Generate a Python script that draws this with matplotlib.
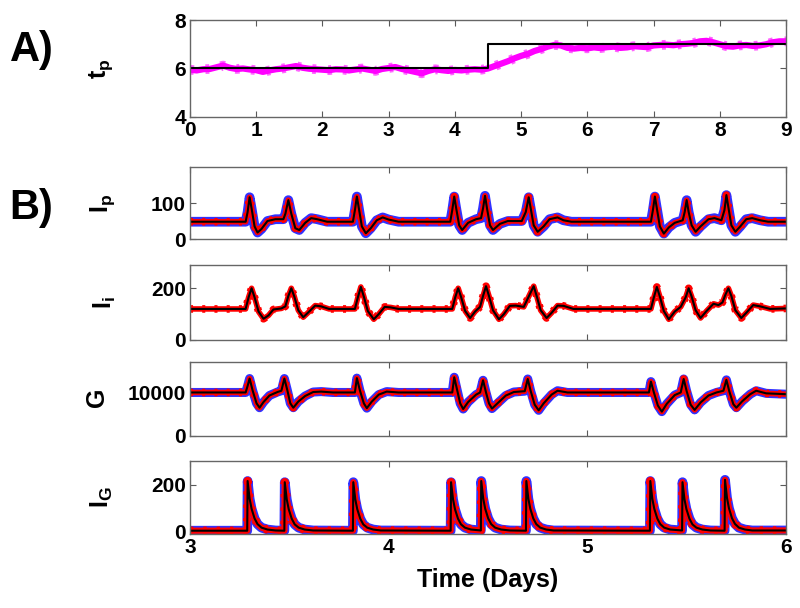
import numpy as np
import matplotlib.pyplot as plt

plt.rcParams['font.family'] = ['Liberation Sans', 'DejaVu Sans']
plt.rcParams['font.weight'] = 'bold'
plt.rcParams['axes.labelweight'] = 'bold'
plt.rcParams['mathtext.fontset'] = 'custom'
plt.rcParams['mathtext.bf'] = 'Liberation Sans:bold'
plt.rcParams['mathtext.rm'] = 'Liberation Sans:bold'
plt.rcParams['mathtext.it'] = 'Liberation Sans:bold'
plt.rcParams['mathtext.default'] = 'bf'

# ---- panel A: estimated vs true t_p over 9 days ----
TP_DAYS = np.linspace(0, 9, 91)
TP_EST = [5.95, 5.92, 5.97, 5.98, 6.05, 6.12, 6.03, 5.98, 6.00, 5.96,
          5.93, 5.86, 5.92, 5.97, 6.00, 6.05, 6.10, 6.03, 5.99, 5.97,
          5.95, 5.93, 5.97, 5.96, 5.92, 5.96, 6.00, 5.95, 5.90, 5.98,
          6.02, 6.06, 5.98, 5.92, 5.86, 5.80, 5.90, 5.97, 5.93, 5.90,
          5.94, 5.92, 5.95, 5.97, 5.95, 6.00, 6.10, 6.20, 6.30, 6.42,
          6.52, 6.60, 6.72, 6.80, 6.90, 6.97, 6.95, 6.85, 6.82, 6.85,
          6.83, 6.87, 6.84, 6.88, 6.90, 6.85, 6.87, 6.92, 6.90, 6.88,
          6.95, 6.97, 6.98, 6.96, 7.00, 7.02, 7.05, 7.12, 7.14, 7.08,
          7.00, 6.92, 6.90, 6.95, 6.97, 6.93, 6.95, 7.00, 7.08, 7.12, 7.12]
TP_TRUE_DAYS = [0, 4.5, 4.5, 9]
TP_TRUE = [6, 6, 7, 7]

# ---- panel B: states over days 3-6 ----
IP_T = [3.00, 3.28, 3.29, 3.30, 3.31, 3.325, 3.34, 3.36, 3.39, 3.43, 3.47, 3.48, 3.495, 3.51,
        3.53, 3.55, 3.58, 3.61, 3.64, 3.69, 3.82, 3.83, 3.84, 3.85, 3.865, 3.885, 3.91, 3.94,
        3.97, 4.00, 4.05, 4.31, 4.32, 4.33, 4.34, 4.355, 4.37, 4.40, 4.44, 4.465, 4.475, 4.485,
        4.495, 4.51, 4.525, 4.56, 4.60, 4.67, 4.69, 4.705, 4.715, 4.73, 4.75, 4.78, 4.81, 4.85,
        4.88, 4.92, 5.32, 5.33, 5.34, 5.35, 5.365, 5.385, 5.41, 5.44, 5.48, 5.49, 5.50, 5.51,
        5.525, 5.545, 5.57, 5.61, 5.64, 5.675, 5.69, 5.70, 5.71, 5.725, 5.745, 5.77, 5.80, 5.83,
        5.87, 5.91, 6.00]
IP_V = [48, 48, 75, 116, 85, 35, 18, 28, 50, 55, 55, 70, 108, 70,
        30, 25, 45, 58, 55, 48, 48, 80, 118, 85, 35, 16, 30, 52,
        60, 54, 48, 48, 80, 118, 85, 38, 25, 45, 55, 58, 85, 120,
        85, 38, 25, 42, 50, 50, 75, 116, 85, 38, 20, 35, 55, 60,
        52, 48, 48, 80, 118, 85, 35, 15, 32, 45, 52, 75, 108, 75,
        38, 20, 35, 55, 58, 52, 80, 122, 88, 38, 20, 35, 55, 58,
        52, 48, 48]

II_T = [3.00, 3.28, 3.295, 3.31, 3.325, 3.345, 3.37, 3.395, 3.42, 3.46, 3.48, 3.495, 3.51,
        3.525, 3.545, 3.57, 3.60, 3.63, 3.66, 3.70, 3.83, 3.845, 3.86, 3.875, 3.895, 3.925,
        3.95, 3.98, 4.01, 4.05, 4.32, 4.335, 4.35, 4.365, 4.385, 4.41, 4.435, 4.46, 4.475,
        4.49, 4.505, 4.525, 4.555, 4.58, 4.61, 4.64, 4.68, 4.70, 4.73, 4.745, 4.765, 4.795,
        4.82, 4.85, 4.88, 4.93, 5.32, 5.335, 5.35, 5.365, 5.385, 5.41, 5.44, 5.47, 5.495,
        5.51, 5.525, 5.545, 5.57, 5.60, 5.635, 5.66, 5.68, 5.695, 5.71, 5.725, 5.745, 5.775,
        5.80, 5.835, 5.87, 5.92, 6.00]
II_V = [120, 120, 165, 200, 165, 110, 82, 95, 118, 122, 130, 170, 200,
        168, 115, 88, 110, 133, 130, 120, 120, 165, 205, 168, 112, 80,
        100, 128, 126, 120, 120, 165, 200, 165, 112, 85, 110, 128, 170,
        208, 170, 115, 80, 100, 132, 133, 128, 160, 208, 170, 115, 85,
        105, 133, 132, 120, 120, 165, 205, 168, 112, 80, 110, 128, 165,
        200, 168, 115, 85, 112, 140, 135, 145, 175, 200, 170, 115, 85,
        105, 135, 130, 120, 122]

G_T = [3.00, 3.28, 3.29, 3.30, 3.315, 3.335, 3.35, 3.37, 3.40, 3.44, 3.46, 3.475, 3.49, 3.505,
       3.52, 3.545, 3.58, 3.62, 3.66, 3.72, 3.83, 3.84, 3.855, 3.875, 3.89, 3.915, 3.95, 3.99,
       4.05, 4.32, 4.33, 4.345, 4.36, 4.375, 4.40, 4.44, 4.46, 4.475, 4.49, 4.505, 4.52, 4.55,
       4.59, 4.63, 4.685, 4.70, 4.715, 4.735, 4.755, 4.78, 4.82, 4.85, 4.90, 5.31, 5.32, 5.335,
       5.355, 5.375, 5.40, 5.44, 5.47, 5.485, 5.50, 5.52, 5.54, 5.57, 5.61, 5.65, 5.685, 5.70,
       5.715, 5.735, 5.75, 5.78, 5.82, 5.85, 5.90, 6.00]
G_V = [10000, 10000, 11500, 13200, 10500, 7500, 6500, 7800, 9300, 10100, 10400, 13200, 10500, 7500,
       6500, 7900, 9200, 10100, 10200, 10000, 10000, 13300, 10500, 7500, 6400, 7900, 9500, 10200,
       10000, 10000, 13500, 10500, 7500, 6200, 7800, 9500, 10000, 12800, 10000, 7500, 6300, 7600,
       9300, 10100, 10300, 13100, 10300, 7200, 5900, 7500, 9500, 10400, 10000, 10000, 12500, 10000,
       7000, 5600, 7400, 9400, 10000, 13100, 10300, 7200, 6000, 7700, 9300, 10000, 10400, 12900,
       10200, 7300, 6500, 8000, 9600, 10400, 9800, 9600]

IG_T = [3.00, 3.288, 3.29, 3.30, 3.31, 3.325, 3.34, 3.36, 3.39, 3.43,
        3.475, 3.477, 3.487, 3.497, 3.512, 3.527, 3.547, 3.577, 3.62,
        3.82, 3.822, 3.832, 3.842, 3.857, 3.872, 3.892, 3.922, 3.96,
        4.312, 4.314, 4.324, 4.334, 4.349, 4.364, 4.384, 4.414,
        4.464, 4.466, 4.476, 4.486, 4.501, 4.516, 4.536, 4.566, 4.61,
        4.691, 4.693, 4.703, 4.713, 4.728, 4.743, 4.763, 4.793, 4.83,
        5.315, 5.317, 5.327, 5.337, 5.352, 5.367, 5.387, 5.417,
        5.477, 5.479, 5.489, 5.499, 5.514, 5.529, 5.549, 5.579, 5.62,
        5.691, 5.693, 5.703, 5.713, 5.728, 5.743, 5.763, 5.793, 5.83, 6.00]
IG_V = [4, 4, 215, 140, 97, 56, 32, 17, 9, 5,
        4, 210, 137, 95, 55, 31, 17, 9, 5,
        4, 210, 137, 95, 55, 31, 17, 9, 5,
        4, 210, 137, 95, 55, 31, 17, 9,
        5, 215, 140, 97, 56, 32, 17, 9, 5,
        4, 215, 140, 97, 56, 32, 17, 9, 5,
        4, 215, 140, 97, 56, 32, 17, 9,
        5, 210, 137, 95, 55, 31, 17, 9, 5,
        4, 220, 143, 99, 57, 33, 17, 9, 5, 5]

PANELS = [
    (IP_T, IP_V, r'$I_p$', (0, 200), [0, 100], True, 7, 4),
    (II_T, II_V, r'$I_i$', (0, 290), [0, 200], False, 0, 4),
    (G_T, G_V, r'$G$', (0, 17000), [0, 10000], True, 6.5, 4),
    (IG_T, IG_V, r'$I_G$', (-10, 300), [0, 200], True, 7, 4.5),
]
LABEL_X = [-0.122, -0.121, -0.134, -0.126]
B_BOXES = [(0.2375, 0.6069, 0.745, 0.1184),
           (0.2375, 0.4408, 0.745, 0.1234),
           (0.2375, 0.2829, 0.745, 0.1217),
           (0.2375, 0.1217, 0.745, 0.1201)]


def style(ax):
    ax.tick_params(direction='in', top=True, right=True, length=4, width=0.8,
                   color='0.35', labelsize=15, pad=3)
    for s in ax.spines.values():
        s.set_color('0.4')
        s.set_linewidth(1.0)


fig = plt.figure(figsize=(8, 6.08), dpi=100)

ax = fig.add_axes((0.2375, 0.8076, 0.745, 0.1595))
ax.plot(TP_DAYS, TP_EST, color='#ff00ff', lw=4.5, solid_capstyle='butt')
ax.plot(TP_DAYS, TP_EST, color='#ff00ff', lw=7, ls=(0, (0.4, 1.2)), alpha=0.6)
ax.plot(TP_TRUE_DAYS, TP_TRUE, color='black', lw=1.5)
ax.set_xlim(0, 9)
ax.set_ylim(4, 8)
ax.set_xticks(range(10))
ax.set_yticks([4, 6, 8])
ax.set_ylabel(r'$t_p$', fontsize=18)
ax.yaxis.set_label_coords(-0.126, 0.5)
style(ax)

for i, (t, v, lab, ylim, yt, blue, blw, rlw) in enumerate(PANELS):
    ax = fig.add_axes(B_BOXES[i])
    if blue:
        ax.plot(t, v, color='#1a1aff', lw=blw, alpha=0.9)
    ax.plot(t, v, color='#ff0000', lw=rlw)
    ax.plot(t, v, color='#ff0000', lw=rlw + 1.5, ls=(0, (0.4, 1.2)))
    ax.plot(t, v, color='black', lw=1.5)
    ax.set_xlim(3, 6)
    ax.set_ylim(*ylim)
    ax.set_xticks([3, 4, 5, 6])
    ax.set_yticks(yt)
    ax.set_ylabel(lab, fontsize=18)
    ax.yaxis.set_label_coords(LABEL_X[i], 0.5)
    style(ax)
    if i < 3:
        ax.tick_params(labelbottom=False)
    else:
        ax.set_xlabel('Time (Days)', fontsize=18, labelpad=8)

fig.text(0.012, 0.918, 'A)', fontsize=30, fontweight='bold', va='center')
fig.text(0.012, 0.658, 'B)', fontsize=30, fontweight='bold', va='center')

fig.savefig('out.png', dpi=100)
